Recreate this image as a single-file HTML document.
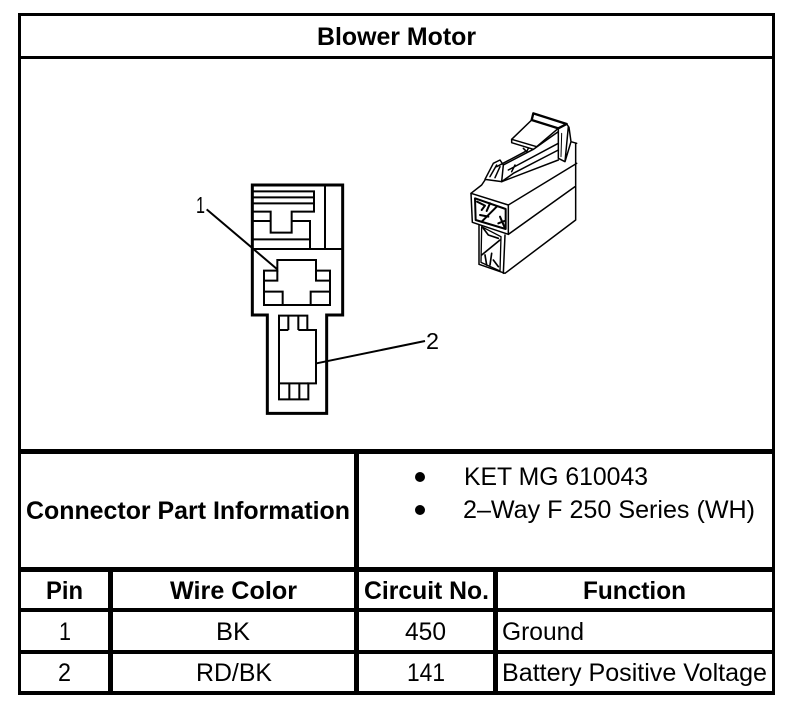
<!DOCTYPE html>
<html><head><meta charset="utf-8"><style>
html,body{margin:0;padding:0;background:#fff}
svg{display:block}
text{font-family:"Liberation Sans",Arial,sans-serif;fill:#000}
.b{font-weight:bold;font-size:25px}
.r{font-size:25px}
</style></head><body>
<svg width="800" height="712" viewBox="0 0 800 712" xmlns="http://www.w3.org/2000/svg">
<rect width="800" height="712" fill="#fff"/>
<g fill="#000">
<rect x="18" y="13" width="757" height="3"/>
<rect x="18" y="13" width="3" height="682"/>
<rect x="772" y="13" width="3" height="682"/>
<rect x="18" y="56" width="757" height="3"/>
<rect x="18" y="449" width="757" height="5"/>
<rect x="18" y="567" width="757" height="5"/>
<rect x="18" y="608" width="757" height="4"/>
<rect x="18" y="650" width="757" height="4"/>
<rect x="18" y="691" width="757" height="4"/>
<rect x="354" y="454" width="5" height="240"/>
<rect x="108" y="567" width="5" height="127"/>
<rect x="493" y="567" width="5" height="127"/>
<circle cx="420" cy="477" r="5"/>
<circle cx="420" cy="510" r="5"/>
</g>
<text class="b" x="317" y="45" textLength="159" lengthAdjust="spacingAndGlyphs">Blower Motor</text>
<text class="b" x="26" y="519" textLength="324" lengthAdjust="spacingAndGlyphs">Connector Part Information</text>
<text class="b" x="46" y="599" textLength="37" lengthAdjust="spacingAndGlyphs">Pin</text>
<text class="b" x="170" y="599" textLength="127" lengthAdjust="spacingAndGlyphs">Wire Color</text>
<text class="b" x="364" y="599" textLength="125" lengthAdjust="spacingAndGlyphs">Circuit No.</text>
<text class="b" x="583" y="599" textLength="103" lengthAdjust="spacingAndGlyphs">Function</text>
<text class="r" x="464" y="485" textLength="184" lengthAdjust="spacingAndGlyphs">KET MG 610043</text>
<text class="r" x="463" y="518" textLength="292" lengthAdjust="spacingAndGlyphs">2–Way F 250 Series (WH)</text>
<text class="r" x="59" y="640" textLength="12" lengthAdjust="spacingAndGlyphs">1</text>
<text class="r" x="216" y="640" textLength="34" lengthAdjust="spacingAndGlyphs">BK</text>
<text class="r" x="405" y="640" textLength="41" lengthAdjust="spacingAndGlyphs">450</text>
<text class="r" x="502" y="640" textLength="82" lengthAdjust="spacingAndGlyphs">Ground</text>
<text class="r" x="58" y="681" textLength="13" lengthAdjust="spacingAndGlyphs">2</text>
<text class="r" x="196" y="681" textLength="76" lengthAdjust="spacingAndGlyphs">RD/BK</text>
<text class="r" x="407" y="681" textLength="38" lengthAdjust="spacingAndGlyphs">141</text>
<text class="r" x="502" y="681" textLength="265" lengthAdjust="spacingAndGlyphs">Battery Positive Voltage</text>
<text x="196" y="213" font-size="23" textLength="9" lengthAdjust="spacingAndGlyphs">1</text>
<text x="426" y="349" font-size="23" textLength="13" lengthAdjust="spacingAndGlyphs">2</text>

<g transform="translate(180,170) scale(0.33333)" fill="none" stroke="#000" stroke-linejoin="miter">
<path d="M217,45H488V435H440V730H262V435H217Z" stroke-width="9"/>
<g stroke-width="6">
<path d="M435,45V237M217,237H488"/>
<path d="M220,64H402V125H335V188H272V125H220M220,82H402M220,100H402"/>
<path d="M220,153H272M335,153H390V237M220,208H390"/>
<path d="M292,270H408V302H450V405H252V302H292Z"/>
<path d="M252,332H292V302M450,332H408V302M252,365H308V405M450,365H392V405"/>
<path d="M297,437H382V480H408V640H385V688H297Z"/>
<path d="M325,437V480M355,437V480M297,480H325M355,480H408M297,640H358M385,640H358V688M328,640V688"/>
<path d="M80,118L292,298M735,513L410,580"/>
</g>
</g>

<g transform="translate(465,110) scale(0.33333)" fill="none" stroke="#000" stroke-width="4.5" stroke-linejoin="round" stroke-linecap="round">
<!-- front face -->
<path d="M18,250L130,285V373L22,337Z"/>
<path d="M30,265L122,297V357L32,330Z" stroke-width="6"/>
<!-- body -->
<path d="M18,250L50,225L60,210M130,285L335,160"/>
<path d="M130,373L330,230M332,100V330L120,490L42,463V345"/>
<path d="M120,375L115,490"/>
<path d="M50,350L48,457L105,483L108,380Z" stroke-width="4"/>
<!-- latch -->
<path d="M60,208L85,160L105,150L115,165L110,215Z"/>
<path d="M75,200L95,165M90,203L105,170"/>
<path d="M110,215L145,190L280,120M115,165L205,118M95,170L180,125M130,180L280,100M140,185L150,165"/>
<path d="M175,115L185,125L190,115"/>
<path d="M110,215L280,150"/>
<!-- tab -->
<path d="M205,10L305,42L280,55L200,30Z" stroke-width="7"/>
<path d="M205,10L200,30L140,88L215,110L280,55"/>
<path d="M140,88V98L205,118L280,65V55"/>
<!-- stanchion -->
<path d="M305,42L312,52L318,95L335,100M310,50L300,155L280,145V65M300,155L318,95"/>
<path d="M290,70L288,140" stroke-width="3"/>
<!-- pin cavity details -->
<path d="M36,50L60,62L50,75M75,55L65,78M95,65L50,110M45,90L70,95M105,95L118,125M100,115L118,108" transform="translate(0,225)" stroke-width="6"/>
<path d="M55,130L70,150L100,160M50,210L105,165M60,210L65,240M80,205L75,240M85,225L100,245" transform="translate(0,225)" stroke-width="5"/>
</g>
</svg>
</body></html>
